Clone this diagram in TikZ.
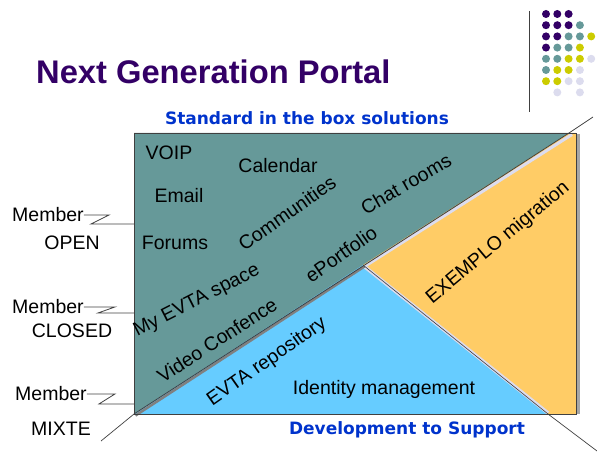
\documentclass[tikz,border=0pt]{standalone}
\usepackage{fontspec}
\setmainfont{Liberation Sans}
\newfontfamily\bandfont{DejaVu Sans}
\definecolor{portalpurple}{HTML}{330066}
\definecolor{portalteal}{HTML}{669999}
\definecolor{portalblue}{HTML}{66CCFF}
\definecolor{portalorange}{HTML}{FFCC66}
\definecolor{portallime}{HTML}{CCCC00}
\definecolor{portallilac}{HTML}{DCDCEE}
\definecolor{bandblue}{HTML}{0033CC}
\definecolor{edgegrey}{HTML}{404040}
\tikzset{
  item/.style={font=\fontsize{19.5}{22}\selectfont, inner sep=0pt, text=black},
  bandlabel/.style={font=\bandfont\bfseries\fontsize{17}{20}\selectfont, text=bandblue, inner sep=0pt},
  zigzag/.style={draw=edgegrey, line width=0.8pt},
  guide/.style={draw=edgegrey, line width=0.7pt}
}
\begin{document}
\begin{tikzpicture}[x=1pt,y=-1pt]
    \useasboundingbox (0,0) rectangle (597,454);
    % title and corner dots
    \node[font=\bfseries\fontsize{32.7}{36}\selectfont, text=portalpurple, anchor=west, inner sep=0pt] (title) at (36,72) {Next Generation Portal};
    \draw[edgegrey, line width=1pt] (529,11) -- (529,112);
    \foreach \c/\r/\col in {0/0/portalpurple,1/0/portalpurple,2/0/portalpurple,
        0/1/portalpurple,1/1/portalpurple,2/1/portalpurple,3/1/portalteal,
        0/2/portalpurple,1/2/portalpurple,2/2/portalteal,3/2/portalteal,4/2/portallime,
        0/3/portalpurple,1/3/portalteal,2/3/portalteal,3/3/portallime,
        0/4/portalteal,1/4/portalteal,2/4/portallime,3/4/portallime,4/4/portallilac,
        0/5/portalteal,1/5/portallime,2/5/portallime,3/5/portallilac,
        0/6/portallime,1/6/portallime,2/6/portallilac,3/6/portallilac,
        1/7/portallilac,3/7/portallilac}
        \fill[\col] ({546+\c*11.3},{14+\r*11.2}) circle[radius=4pt];
    % the box
    \coordinate (tl) at (134,133);
    \coordinate (tr) at (576,133);
    \coordinate (br) at (576,414);
    \coordinate (bl) at (134,414);
    \coordinate (diagtop) at (569,133);
    \coordinate (apex) at (363,265);
    \coordinate (split) at (548,414);
    \fill[portalteal] (tl) -- (diagtop) -- (bl) -- cycle;
    \fill[portalorange] (diagtop) -- (tr) -- (br) -- (split) -- (apex) -- cycle;
    \fill[portalblue] (bl) -- (apex) -- (split) -- cycle;
    \draw[portallilac, line width=3.5pt] ([shift={(2,2)}]apex) -- ([shift={(0,-1)}]split);
    \draw[portallilac, line width=3pt] ([shift={(1.5,1.5)}]apex) -- ([shift={(3,1.5)}]diagtop);
    \draw[gray, line width=2.5pt] ([shift={(1.5,1.5)}]bl) -- ([shift={(1.5,1.5)}]apex);
    \draw[edgegrey, line width=0.8pt] (bl) -- (diagtop);
    \draw[edgegrey, line width=0.6pt] (apex) -- (split);
    \draw[gray!70, line width=3pt] (578,134) -- (578,414);
    \draw[edgegrey, line width=0.9pt] (tl) rectangle (br);
    % guide lines leaving the box
    \coordinate (endne) at (593,117);
    \coordinate (endsw) at (101,441);
    \coordinate (endse) at (597,451);
    \draw[guide] (diagtop) -- (endne);
    \draw[guide] (bl) -- (endsw);
    \draw[guide] (split) -- (endse);
    % band titles
    \node[bandlabel] (standard) at (307,118) {Standard in the box solutions};
    \node[bandlabel] (support) at (407,430) {Development to Support};
    % members
    \node[item, anchor=west] (mopen) at (12,215) {Member};
    \node[item] (lopen) at (72,243) {OPEN};
    \node[item, anchor=west] (mclosed) at (12,307) {Member};
    \node[item] (lclosed) at (72,331) {CLOSED};
    \node[item, anchor=west] (mmixte) at (15,394) {Member};
    \node[item] (lmixte) at (61,429) {MIXTE};
    \coordinate (openin) at (134,224);
    \coordinate (closedin) at (134,313);
    \coordinate (mixtein) at (134,404);
    \draw[zigzag] (mopen.east) -- ++(25,0) -- ++(-18,9) -- (openin);
    \draw[zigzag] (mclosed.east) -- ++(31,0) -- ++(-17,6) -- (closedin);
    \draw[zigzag] (mmixte.east) -- ++(28,0) -- ++(-16,10) -- (mixtein);
    % services
    \node[item] (voip) at (169,153) {VOIP};
    \node[item] (calendar) at (278,166) {Calendar};
    \node[item] (email) at (179,196) {Email};
    \node[item] (forums) at (175,243) {Forums};
    \node[item, rotate=35] (communities) at (287,213) {Communities};
    \node[item, rotate=30] (chat) at (406,184) {Chat rooms};
    \node[item, rotate=35] (eportfolio) at (341,254) {ePortfolio};
    \node[item, rotate=27] (myspace) at (197,301) {My EVTA space};
    \node[item, rotate=33] (video) at (217,340) {Video Confence};
    \node[item, rotate=35] (repository) at (267,362) {EVTA repository};
    \node[item] (identity) at (384,389) {Identity management};
    \node[item, rotate=40] (exemplo) at (498,243) {EXEMPLO migration};
\end{tikzpicture}
\end{document}
